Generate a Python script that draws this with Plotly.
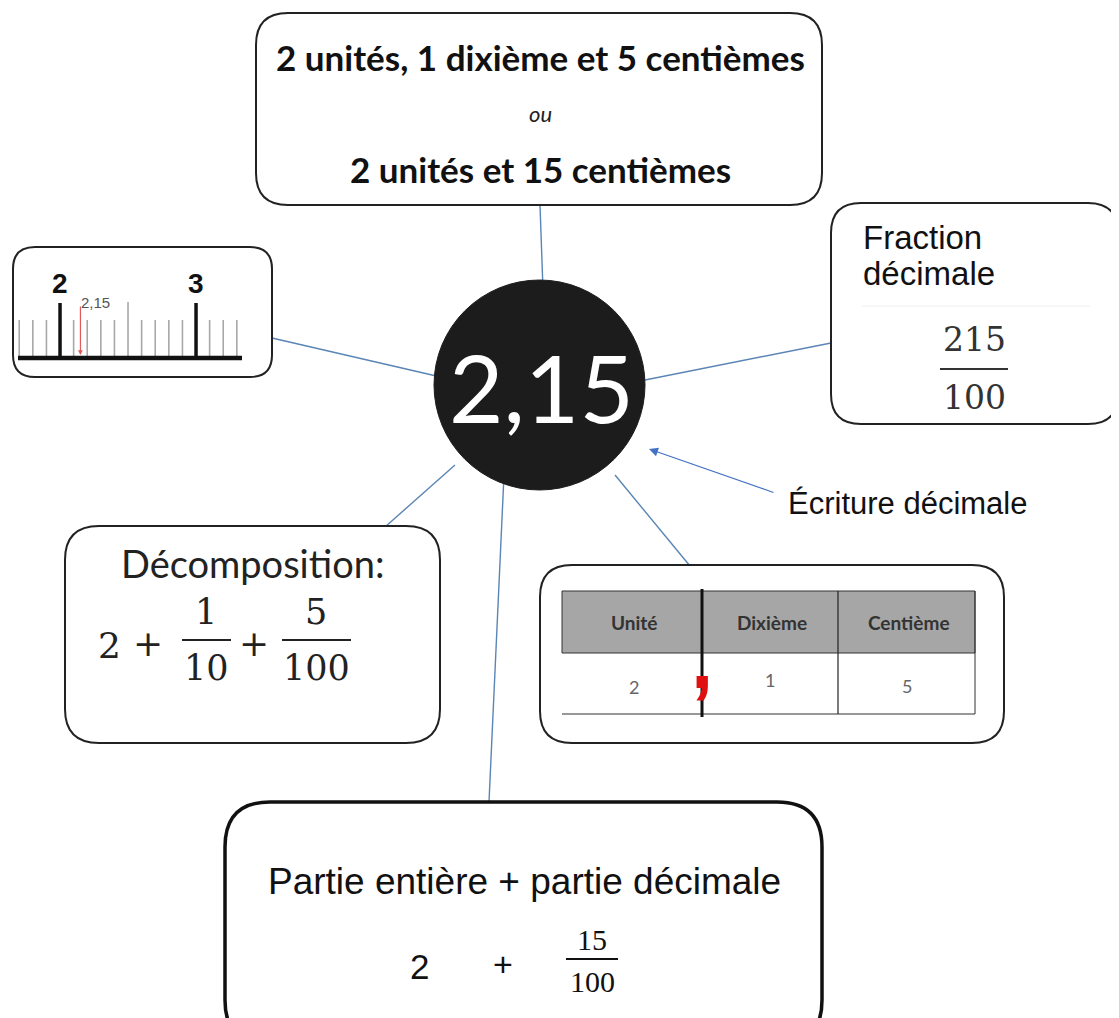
import plotly.graph_objects as go

W, H = 1119, 1018
OFF = 8  # default page margin of the html body

# ---------------- data ----------------
center_value = "2,15"
top_lines = ["2 unités, 1 dixième et 5 centièmes", "ou", "2 unités et 15 centièmes"]
fraction_title = ["Fraction", "décimale"]
fraction_num, fraction_den = "215", "100"
decomp_title = "Décomposition:"
decomp_whole = "2"
decomp_fracs = [("1", "10"), ("5", "100")]
table_headers = ["Unité", "Dixième", "Centième"]
table_values = ["2", "1", "5"]
bottom_title = "Partie entière + partie décimale"
bottom_whole = "2"
bottom_frac = ("15", "100")
arrow_label = "Écriture décimale"
ruler_major = [2, 3]
ruler_major_labels = ["2", "3"]
ruler_half = [2.5]
ruler_minor = [1.7, 1.8, 1.9, 2.1, 2.2, 2.3, 2.4, 2.6, 2.7, 2.8, 2.9, 3.1, 3.2, 3.3]
ruler_marker = 2.15

# ---------------- styles ----------------
CAL = "Lato"
ARIAL = "Liberation Sans"
CAMB = "DejaVu Serif"
TIMES = "Liberation Serif"
LINK = "#5a85b5"
BOX = "#222222"

fig = go.Figure()
shapes = []
ann = []


def rrect(x0, y0, x1, y1, r, width=2, color=BOX):
    p = (f"M {x0+r},{y0} L {x1-r},{y0} Q {x1},{y0} {x1},{y0+r} "
         f"L {x1},{y1-r} Q {x1},{y1} {x1-r},{y1} L {x0+r},{y1} "
         f"Q {x0},{y1} {x0},{y1-r} L {x0},{y0+r} Q {x0},{y0} {x0+r},{y0} Z")
    shapes.append(dict(type="path", path=p, xref="x", yref="y",
                       line=dict(color=color, width=width), fillcolor="white", layer="below"))


def line(x0, y0, x1, y1, color=LINK, width=1.4):
    shapes.append(dict(type="line", x0=x0, y0=y0, x1=x1, y1=y1, xref="x", yref="y",
                       line=dict(color=color, width=width), layer="below"))


def text(x, y, t, size, family=CAL, color="#111111", weight="normal", style="normal",
         xanchor="center", xref="x"):
    ann.append(dict(x=x, y=y, xref=xref, yref="y", text=t, showarrow=False,
                    xanchor=xanchor, yanchor="middle",
                    font=dict(size=size, family=family, color=color, weight=weight, style=style)))


def frac(xc, ybar, num, den, size, family, x0, x1, dy_n, dy_d, color="#222222", bw=2):
    text(xc, ybar - dy_n, num, size, family, color)
    text(xc, ybar + dy_d, den, size, family, color)
    line(x0, ybar, x1, ybar, color=color, width=bw)


# ---------------- connectors ----------------
line(540, 205, 543, 290)
line(272, 338, 445, 378)
line(831, 343, 640, 381)
line(385, 527, 455, 465)
line(690, 566, 615, 475)
line(489, 802, 504, 475)

# ---------------- centre circle ----------------
shapes.append(dict(type="circle", x0=434, x1=645, y0=280, y1=490, xref="x", yref="y",
                   fillcolor="#1c1c1c", line=dict(color="#1c1c1c", width=1), layer="below"))
text(541, 386, center_value, 94, CAL, "white")

# ---------------- top box ----------------
rrect(256, 13, 822, 205, 32)
text(540, 57, top_lines[0], 35, CAL, "#111111", weight="bold")
text(540, 113, top_lines[1], 22, CAL, "#222222", style="italic")
text(540, 169, top_lines[2], 35, CAL, "#111111", weight="bold")

# ---------------- ruler box ----------------
rrect(13, 247, 272, 377, 22)
fig.add_trace(go.Scatter(
    x=[v for m in ruler_minor for v in (m, m, None)],
    y=[y for m in ruler_minor for y in (357, 320, None)],
    xaxis="x2", yaxis="y", mode="lines", line=dict(color="#a8a8a8", width=1.6),
    hoverinfo="skip", showlegend=False))
fig.add_trace(go.Scatter(
    x=[v for m in ruler_half for v in (m, m, None)],
    y=[y for m in ruler_half for y in (357, 302, None)],
    xaxis="x2", yaxis="y", mode="lines", line=dict(color="#a8a8a8", width=1.6),
    hoverinfo="skip", showlegend=False))
fig.add_trace(go.Scatter(
    x=[v for m in ruler_major for v in (m, m, None)],
    y=[y for m in ruler_major for y in (357, 303, None)],
    xaxis="x2", yaxis="y", mode="lines", line=dict(color="#111111", width=3.5),
    hoverinfo="skip", showlegend=False))
fig.add_trace(go.Scatter(
    x=[ruler_minor[0] - 0.01, ruler_minor[-1] + 0.04], y=[358, 358],
    xaxis="x2", yaxis="y", mode="lines", line=dict(color="#111111", width=4.5),
    hoverinfo="skip", showlegend=False))
for v, lab in zip(ruler_major, ruler_major_labels):
    text(v, 283, lab, 28, ARIAL, "#111111", weight="bold", xref="x2")
ann.append(dict(x=ruler_marker, y=355, xref="x2", yref="y", ax=ruler_marker, ay=305,
                axref="x2", ayref="y", showarrow=True, arrowhead=2, arrowsize=0.8,
                arrowwidth=1.2, arrowcolor="#e05a5a", text=""))
text(ruler_marker - 0.01, 302, center_value, 15, ARIAL, "#555555", xanchor="left", xref="x2")

# ---------------- fraction box ----------------
rrect(831, 203, 1118, 424, 30)
text(861, 237, fraction_title[0], 33, ARIAL, "#111111", xanchor="left")
text(861, 273, fraction_title[1], 33, ARIAL, "#111111", xanchor="left")
line(862, 306, 1090, 306, color="#efefef", width=1)
frac(974, 369, fraction_num, fraction_den, 33, CAMB, 940, 1008, 30, 28, color="#333333", bw=2)

# ---------------- écriture décimale arrow ----------------
ann.append(dict(x=649, y=449, xref="x", yref="y", ax=775, ay=493, axref="x", ayref="y",
                showarrow=True, arrowhead=2, arrowsize=1.5, arrowwidth=1.2,
                arrowcolor="#4472c4", text=""))
text(786, 503, arrow_label, 31, ARIAL, "#111111", xanchor="left")

# ---------------- decomposition box ----------------
rrect(65, 526, 440, 743, 34)
text(252, 563, decomp_title, 38, CAL, "#222222")
text(109, 645, decomp_whole, 36, CAMB, "#222222")
text(148, 643, "+", 36, CAMB, "#222222")
frac(206, 640, decomp_fracs[0][0], decomp_fracs[0][1], 35, CAMB, 182, 231, 28, 28)
text(254, 643, "+", 36, CAMB, "#222222")
frac(316, 640, decomp_fracs[1][0], decomp_fracs[1][1], 35, CAMB, 282, 351, 28, 28)

# ---------------- table box ----------------
rrect(540, 565, 1004, 743, 32)
cols = [562, 702, 838, 975]
ty0, ty1, ty2 = 591, 653, 714
shapes.append(dict(type="rect", x0=cols[0], x1=cols[-1], y0=ty0, y1=ty1, xref="x", yref="y",
                   fillcolor="#a6a6a6", line=dict(color="#333333", width=1), layer="below"))
line(cols[0], ty2, cols[-1], ty2, color="#333333", width=1.2)
line(cols[2], ty0, cols[2], ty2, color="#222222", width=1.2)
line(cols[3], ty0, cols[3], ty2, color="#333333", width=1)
line(cols[1], ty0 - 2, cols[1], ty2 + 3, color="#111111", width=3)
val_dx = [2, 0, 0]
val_y = [687, 680, 686]
for i, (h, v) in enumerate(zip(table_headers, table_values)):
    xc = (cols[i] + cols[i + 1]) / 2
    text(xc + 2, 622, h, 19, CAL, "#333333", weight="bold")
    text(xc + val_dx[i], val_y[i], v, 18, CAL, "#666666")
text(702, 660, ",", 80, ARIAL, "#e01010", weight="bold")

# ---------------- bottom box ----------------
rrect(225, 802, 822, 1045, 45, width=3.5, color="#111111")
text(524, 881, bottom_title, 37, ARIAL, "#111111")
text(419, 966, bottom_whole, 35, ARIAL, "#111111")
text(503, 964, "+", 34, ARIAL, "#111111")
frac(592, 959, bottom_frac[0], bottom_frac[1], 30, TIMES, 566, 618, 20, 22, color="#111111", bw=1.8)

PW, PH = W - OFF, H - OFF
fig.update_layout(
    width=PW, height=PH, margin=dict(l=0, r=0, t=0, b=0),
    paper_bgcolor="white", plot_bgcolor="rgba(0,0,0,0)",
    xaxis=dict(range=[OFF, W], domain=[0, 1], visible=False, fixedrange=True),
    xaxis2=dict(range=[1.691, 3.338], domain=[(18 - OFF) / PW, (242 - OFF) / PW],
                visible=False, anchor="y", fixedrange=True),
    yaxis=dict(range=[H, OFF], domain=[0, 1], visible=False, fixedrange=True),
    shapes=shapes, annotations=ann, showlegend=False,
)
fig.write_html("out.html")
